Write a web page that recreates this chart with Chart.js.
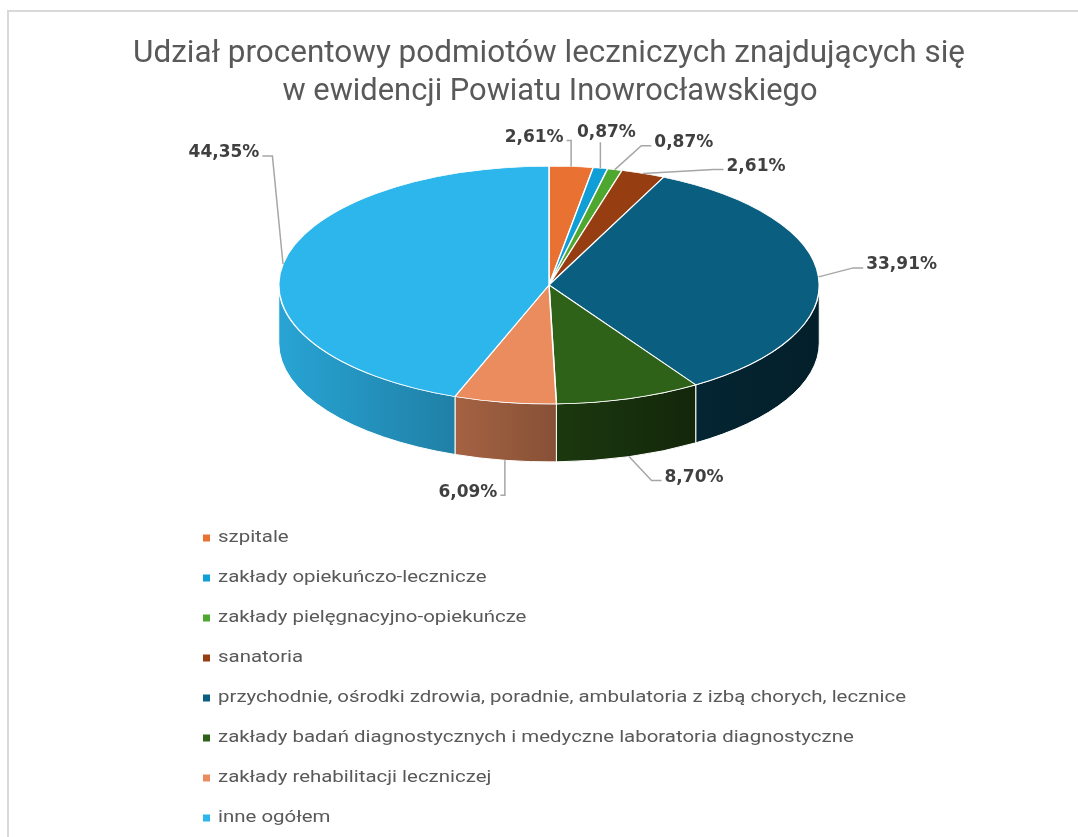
<!DOCTYPE html>
<html>
<head>
<meta charset="utf-8">
<title>Udział procentowy podmiotów leczniczych</title>
<script src="https://cdn.jsdelivr.net/npm/chart.js@4"></script>
<style>
  html, body { margin: 0; padding: 0; background: #fff; }
  canvas { display: block; }
</style>
</head>
<body>
<canvas id="pieChart" width="1078" height="837"></canvas>
<script>
// data
var categories = [
  'szpitale',
  'zakłady opiekuńczo-lecznicze',
  'zakłady pielęgnacyjno-opiekuńcze',
  'sanatoria',
  'przychodnie, ośrodki zdrowia, poradnie, ambulatoria z izbą chorych, lecznice',
  'zakłady badań diagnostycznych i medyczne laboratoria diagnostyczne',
  'zakłady rehabilitacji leczniczej',
  'inne ogółem'
];
var shares = [2.61, 0.87, 0.87, 2.61, 33.91, 8.70, 6.09, 44.35];
var titleLines = [
  'Udział procentowy podmiotów leczniczych znajdujących się',
  'w ewidencji Powiatu Inowrocławskiego'
];

// styles
var sliceColors = ['#E97132', '#0F9ED5', '#4EA72E', '#973D12', '#0A5E80', '#2F6219', '#EB8C5E', '#2CB6EC'];
var labelOffsets = [[-37, -29], [6, -36], [69, -27], [113, -7], [83, -12], [65, 21], [-37, 32], [-59, -111]];
var PIE_TILT = 0.44;
var PIE_DEPTH = 58;

function shade(hex, f) {
  var n = parseInt(hex.slice(1), 16);
  var r = Math.round(((n >> 16) & 255) * f);
  var g = Math.round(((n >> 8) & 255) * f);
  var b = Math.round((n & 255) * f);
  return 'rgb(' + r + ',' + g + ',' + b + ')';
}

function fmt(v) {
  return v.toFixed(2).replace('.', ',') + '%';
}

// text squeezed/stretched horizontally to a given width
function fittedText(ctx, text, x, y, width, align) {
  var w = ctx.measureText(text).width;
  var sx = width / w;
  ctx.save();
  ctx.translate(x, y);
  ctx.scale(sx, 1);
  ctx.textAlign = align;
  ctx.fillText(text, 0, 0);
  ctx.restore();
}

var pie3d = {
  id: 'pie3d',
  beforeDatasetsDraw: function(chart) {
    var ctx = chart.ctx;
    var arcs = chart.getDatasetMeta(0).data;
    var cx = arcs[0].x, cy = arcs[0].y, r = arcs[0].outerRadius;
    var ry = r * PIE_TILT;

    // side walls, only the front half can be seen
    arcs.forEach(function(arc, i) {
      var a = Math.max(arc.startAngle, 0);
      var b = Math.min(arc.endAngle, Math.PI);
      if (b <= a) return;
      var grad = ctx.createLinearGradient(cx - r, 0, cx + r, 0);
      grad.addColorStop(0, shade(sliceColors[i], 0.9));
      grad.addColorStop(0.3, shade(sliceColors[i], 0.72));
      grad.addColorStop(0.55, shade(sliceColors[i], 0.55));
      grad.addColorStop(0.8, shade(sliceColors[i], 0.38));
      grad.addColorStop(1, shade(sliceColors[i], 0.33));
      ctx.beginPath();
      ctx.ellipse(cx, cy, r, ry, 0, a, b);
      ctx.lineTo(cx + r * Math.cos(b), cy + ry * Math.sin(b) + PIE_DEPTH);
      ctx.ellipse(cx, cy + PIE_DEPTH, r, ry, 0, b, a, true);
      ctx.closePath();
      ctx.fillStyle = grad;
      ctx.fill();
      ctx.strokeStyle = '#ffffff';
      ctx.lineWidth = 1;
      ctx.stroke();
    });

    // squash the flat pie into an ellipse
    ctx.save();
    ctx.translate(cx, cy);
    ctx.scale(1, PIE_TILT);
    ctx.translate(-cx, -cy);
  },
  afterDatasetsDraw: function(chart) {
    chart.ctx.restore();
  },
  afterDraw: function(chart) {
    var ctx = chart.ctx;
    var arcs = chart.getDatasetMeta(0).data;
    var cx = arcs[0].x, cy = arcs[0].y, r = arcs[0].outerRadius;
    var ry = r * PIE_TILT;

    // frame
    ctx.fillStyle = '#D9D9D9';
    ctx.fillRect(7, 10, 2, 827);
    ctx.fillRect(7, 10, 1071, 2);

    // title
    ctx.fillStyle = '#595959';
    ctx.font = '32px Roboto';
    ctx.textBaseline = 'alphabetic';
    fittedText(ctx, titleLines[0], 549, 62, 832, 'center');
    fittedText(ctx, titleLines[1], 550, 100, 535, 'center');

    // data labels with leader lines
    ctx.font = 'bold 17px "DejaVu Sans"';
    ctx.textBaseline = 'middle';
    ctx.textAlign = 'center';
    arcs.forEach(function(arc, i) {
      var mid = (arc.startAngle + arc.endAngle) / 2;
      var ax = cx + r * Math.cos(mid);
      var ay = cy + ry * Math.sin(mid);
      if (Math.sin(mid) > 0) ay += PIE_DEPTH;
      var tx = ax + labelOffsets[i][0];
      var ty = ay + labelOffsets[i][1];
      var text = fmt(shares[i]);
      var w = ctx.measureText(text).width;
      var left = tx - w / 2 - 3, right = tx + w / 2 + 3;

      ctx.beginPath();
      ctx.moveTo(ax, ay);
      if (ax > right) {
        ctx.lineTo(Math.min(ax, right + 10), ty + 3);
        ctx.lineTo(right, ty + 3);
      } else if (ax < left) {
        ctx.lineTo(Math.max(ax, left - 10), ty + 3);
        ctx.lineTo(left, ty + 3);
      } else {
        ctx.lineTo(ax, ay > ty ? ty + 10 : ty - 10);
      }
      ctx.strokeStyle = '#A6A6A6';
      ctx.lineWidth = 1.5;
      ctx.stroke();

      ctx.fillStyle = '#404040';
      ctx.fillText(text, tx, ty);
    });

    // legend, one entry per row
    ctx.font = '17px Roboto';
    ctx.textBaseline = 'middle';
    var longest = 0;
    categories.forEach(function(c) { longest = Math.max(longest, ctx.measureText(c).width); });
    var sx = 688 / longest;
    categories.forEach(function(c, i) {
      var y = 538 + i * 40;
      ctx.fillStyle = sliceColors[i];
      ctx.fillRect(203, y - 3.5, 7, 7);
      ctx.fillStyle = '#595959';
      ctx.save();
      ctx.translate(218, y);
      ctx.scale(sx, 1);
      ctx.textAlign = 'left';
      ctx.fillText(c, 0, 0);
      ctx.restore();
    });
  }
};

var ctx = document.getElementById('pieChart').getContext('2d');
var myChart = new Chart(ctx, {
  type: 'pie',
  data: {
    labels: categories,
    datasets: [{
      data: shares,
      backgroundColor: sliceColors,
      borderColor: '#ffffff',
      borderWidth: 1.5
    }]
  },
  options: {
    responsive: false,
    animation: false,
    layout: {
      padding: { left: 278, top: 14, right: 258, bottom: 281 }
    },
    plugins: {
      legend: { display: false },
      tooltip: { enabled: false }
    }
  },
  plugins: [pie3d]
});
</script>
</body>
</html>
